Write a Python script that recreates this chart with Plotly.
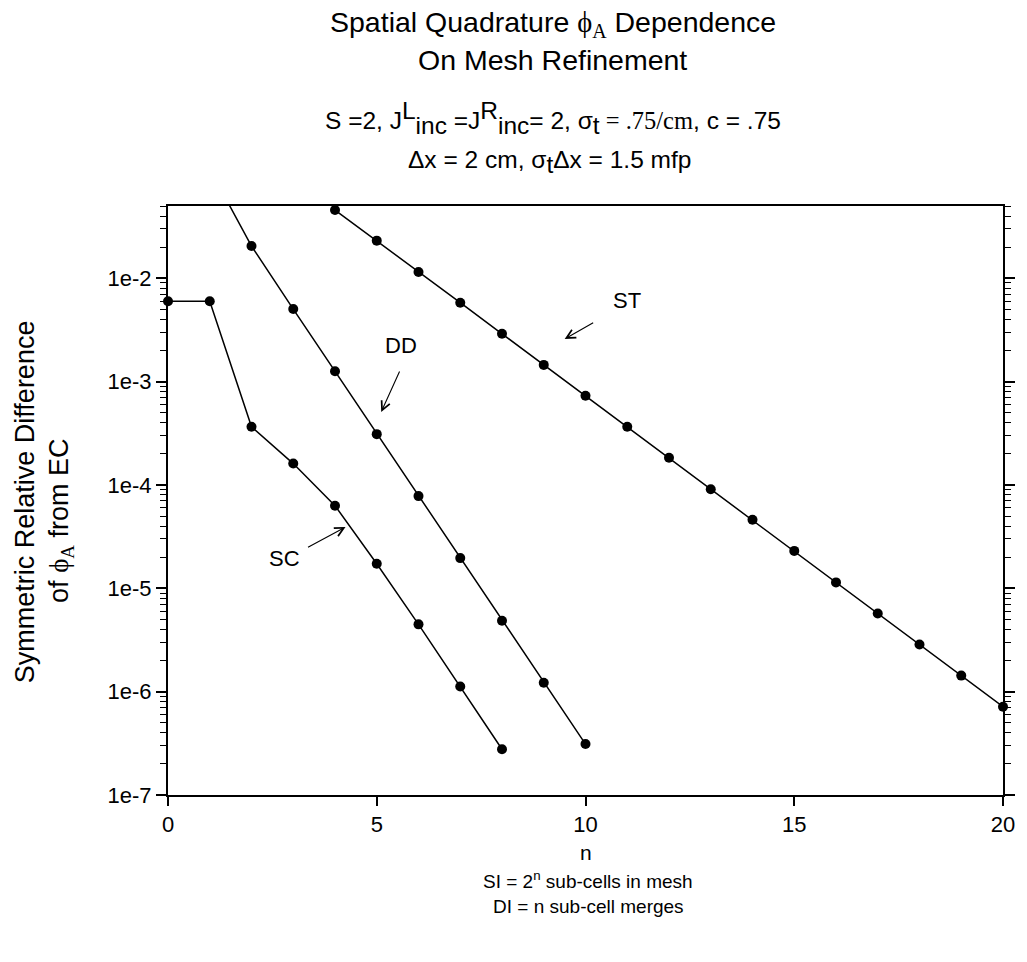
import math
import plotly.graph_objects as go

# ---------------- data ----------------
n_sc = [0, 1, 2, 3, 4, 5, 6, 7, 8]
sc_vals = [6.0e-3, 6.0e-3, 3.66e-4, 1.61e-4, 6.3e-5, 1.73e-5, 4.48e-6, 1.12e-6, 2.77e-7]

n_dd = [1, 2, 3, 4, 5, 6, 7, 8, 9, 10]
dd_vals = [1.14e-1, 2.05e-2, 5.03e-3, 1.26e-3, 3.10e-4, 7.8e-5, 1.96e-5, 4.85e-6, 1.22e-6, 3.11e-7]

n_st = [4, 5, 6, 7, 8, 9, 10, 11, 12, 13, 14, 15, 16, 17, 18, 19, 20]
st_vals = [4.57e-2, 2.31e-2, 1.15e-2, 5.8e-3, 2.9e-3, 1.45e-3, 7.3e-4, 3.65e-4, 1.83e-4,
           9.1e-5, 4.6e-5, 2.3e-5, 1.14e-5, 5.7e-6, 2.86e-6, 1.43e-6, 7.15e-7]

x_ticks = [0, 5, 10, 15, 20]
y_tickvals = [1e-7, 1e-6, 1e-5, 1e-4, 1e-3, 1e-2]
y_ticktext = ["1e-7", "1e-6", "1e-5", "1e-4", "1e-3", "1e-2"]

Y_MIN, Y_MAX = 1e-7, 5e-2
X_MIN, X_MAX = 0, 20

# ---------------- layout geometry ----------------
# the page body has an 8px margin, so the figure is made 8px smaller
OFF = 8
W, H = 1027 - OFF, 962 - OFF
L, R, T, B = 168, 1010, 206, 795   # plot edges in reference pixels

SANS = "Liberation Sans, Arial, sans-serif"
SERIF = "Liberation Serif, Times New Roman, serif"


def paper(xp, yp):
    return (xp - L) / (R - L), (B - yp) / (B - T)


fig = go.Figure()

for xs, ys in [(n_sc, sc_vals), (n_dd, dd_vals), (n_st, st_vals)]:
    fig.add_trace(go.Scatter(x=xs, y=ys, mode="lines",
                             line=dict(color="black", width=1.5),
                             hoverinfo="skip", showlegend=False))
    mx = [a for a, b in zip(xs, ys) if Y_MIN <= b <= Y_MAX]
    my = [b for b in ys if Y_MIN <= b <= Y_MAX]
    fig.add_trace(go.Scatter(x=mx, y=my, mode="markers",
                             marker=dict(color="black", size=10),
                             cliponaxis=False, showlegend=False))

ann = []


def text_ann(xp, yp, text, size, family=SANS, angle=0):
    px, py = paper(xp, yp)
    ann.append(dict(x=px, y=py, xref="paper", yref="paper", text=text,
                    showarrow=False, xanchor="center", yanchor="middle",
                    textangle=angle, font=dict(family=family, size=size, color="black")))


def arrow_ann(hx, hy, tx, ty):
    px, py = paper(hx, hy)
    ann.append(dict(x=px, y=py, xref="paper", yref="paper", text="",
                    showarrow=True, ax=tx - hx, ay=ty - hy,
                    arrowhead=5, arrowsize=1.6, arrowwidth=1.1,
                    arrowcolor="black", standoff=0, startstandoff=0))


def big(s, size):
    return f'<span style="font-size:{size}px">{s}</span>'


phi = f'<span style="font-family:{SERIF}">ϕ</span>'
S3 = 24.5

# title lines
text_ann(556, 24, f"Spatial Quadrature {phi}<sub><span style=\"font-family:{SERIF}\">A</span></sub> Dependence", 28.5)
text_ann(556, 60, "On Mesh Refinement", 28.5)
line3 = ("S =2, J<sup>" + big("L", S3) + "</sup><sub>" + big("inc", S3) + "</sub> =J<sup>" + big("R", S3)
         + "</sup><sub>" + big("inc", S3) + "</sub>= 2, σ<sub>" + big("t", S3) + "</sub>"
         + f'<span style="font-family:{SERIF}"> = .75/cm</span>, c = .75')
text_ann(556, 118, line3, S3)
text_ann(553, 162, "Δx = 2 cm, σ<sub>" + big("t", S3) + "</sub>Δx = 1.5 mfp", S3)

# y-axis title
text_ann(24, 502, "Symmetric Relative Difference", 27, angle=-90)
text_ann(60, 521, f"of {phi}<sub><span style=\"font-family:{SERIF}\">A</span></sub> from EC", 27, angle=-90)

# x-axis title
text_ann(590, 852, "n", 21)
text_ann(592, 880, "SI = 2<sup>n</sup> sub-cells in mesh", 19)
text_ann(592, 906, "DI = n sub-cell merges", 19)

# curve labels and arrows
text_ann(631, 300, "ST", 22)
arrow_ann(568, 339, 598, 322)
text_ann(403, 345, "DD", 22)
arrow_ann(383, 412, 402, 370)
text_ann(285, 558, "SC", 22)
arrow_ann(347, 527, 308, 548)

fig.update_layout(
    width=W, height=H,
    margin=dict(l=L - OFF, r=W - (R - OFF), t=T - OFF, b=H - (B - OFF), pad=0),
    plot_bgcolor="white", paper_bgcolor="white",
    font=dict(family=SANS, size=22, color="black"),
    annotations=ann,
    showlegend=False,
    xaxis=dict(range=[X_MIN, X_MAX], tickvals=x_ticks, ticks="outside", ticklen=9,
               tickwidth=1.5, tickcolor="black", showline=True, linecolor="black",
               linewidth=2, mirror=True, showgrid=False, zeroline=False,
               tickfont=dict(size=22, family=SANS)),
    yaxis=dict(type="log", range=[math.log10(Y_MIN), math.log10(Y_MAX)],
               tickvals=y_tickvals, ticktext=y_ticktext, ticks="outside", ticklen=10,
               tickwidth=1.5, tickcolor="black", showline=True, linecolor="black",
               linewidth=2, mirror="ticks", showgrid=False, zeroline=False,
               tickfont=dict(size=22, family=SANS),
               minor=dict(ticks="outside", ticklen=6, tickwidth=1.2, tickcolor="black",
                          dtick="D1", showgrid=False)),
)

fig.write_html("out.html")
